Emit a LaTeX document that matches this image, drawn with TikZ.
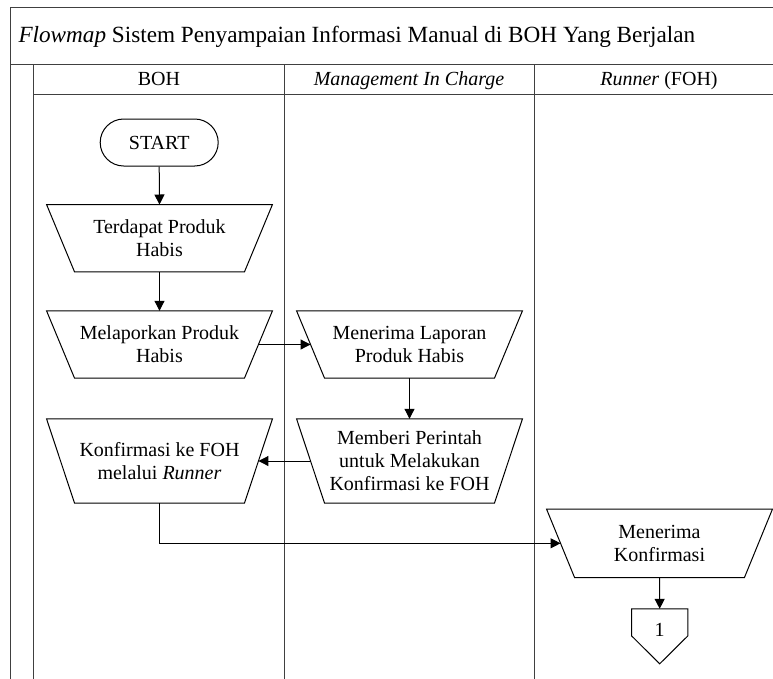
\documentclass[tikz,border=0pt]{standalone}
\usepackage{fontspec}
\setmainfont{Liberation Serif}
\usetikzlibrary{arrows.meta,shapes.misc,calc}

\tikzset{
  frame/.style={draw=black!75, line width=1pt},
  shapeline/.style={draw=black, line width=1pt},
  lbl/.style={font=\fontsize{20}{23}\selectfont, align=center, inner sep=0pt},
  terminal/.style={rounded rectangle, shapeline, lbl, minimum width=118pt, minimum height=47pt},
  manop/.style={lbl, minimum width=225.5pt},
  offpage/.style={lbl, minimum width=56pt, minimum height=42pt},
  arr/.style={draw=black, line width=1pt, -{Triangle[length=10pt,width=10pt]}},
}

\begin{document}
\begin{tikzpicture}[x=1pt, y=-1pt]
\useasboundingbox (0,0) rectangle (773,678);
\clip (0,0) rectangle (773,678);

% pool, title row, header row and lanes
\draw[frame] (10.7,700) -- (10.7,7.5) -- (784,7.5) -- (784,700);
\draw[frame] (10.7,64) -- (784,64);
\draw[frame] (33.7,64) -- (33.7,700);
\draw[frame] (33.7,94) -- (784,94);
\draw[frame] (284,64) -- (284,700);
\draw[frame] (534,64) -- (534,700);

\node[anchor=base west, inner sep=0pt, font=\fontsize{23.2}{27}\selectfont] (title) at (18.3,42.7)
  {\textit{Flowmap} Sistem Penyampaian Informasi Manual di BOH Yang Berjalan};
\node[lbl, anchor=base] (laneA) at (159,85.5) {BOH};
\node[lbl, anchor=base] (laneB) at (409,85.5) {\textit{Management In Charge}};
\node[lbl, anchor=base] (laneC) at (659,85.5) {\textit{Runner} (FOH)};

% steps
\node[terminal] (start) at (159.2,142.5) {START};
\node[manop, minimum height=67pt] (terd) at (159.5,238.2) {Terdapat Produk\\Habis};
\node[manop, minimum height=67pt] (mel)  at (159.5,344.5) {Melaporkan Produk\\Habis};
\node[manop, minimum height=67pt] (mlap) at (409.5,344.5) {Menerima Laporan\\Produk Habis};
\node[manop, minimum height=84pt] (memb) at (409.5,461) {Memberi Perintah\\untuk Melakukan\\Konfirmasi ke FOH};
\node[manop, minimum height=84pt] (konf) at (159.5,461) {Konfirmasi ke FOH\\melalui \textit{Runner}};
\node[manop, minimum height=68pt] (mkonf) at (659.5,543.3) {Menerima\\Konfirmasi};
\node[offpage] (c1) at (659.7,630) {1};

% manual operation outlines
\foreach \n in {terd,mel,mlap,memb,konf,mkonf}
  \draw[shapeline] (\n.north west) -- (\n.north east)
    -- ([xshift=-28pt]\n.south east) -- ([xshift=28pt]\n.south west) -- cycle;

% off-page connector outline
\draw[shapeline] (c1.north west) -- (c1.north east) -- ([yshift=-27pt]c1.north east)
  -- ([yshift=-55pt]c1.north) -- ([yshift=-27pt]c1.north west) -- cycle;

% flow
\draw[arr] (start.south) -- (terd.north);
\draw[arr] (terd.south) -- (mel.north);
\draw[arr] ([xshift=-14pt]mel.east) -- ([xshift=14pt]mlap.west);
\draw[arr] (mlap.south) -- (memb.north);
\draw[arr] ([xshift=14pt]memb.west) -- ([xshift=-14pt]konf.east);
\draw[arr] (konf.south) |- ([xshift=14pt]mkonf.west);
\draw[arr] (mkonf.south) -- (c1.north);
\end{tikzpicture}
\end{document}
